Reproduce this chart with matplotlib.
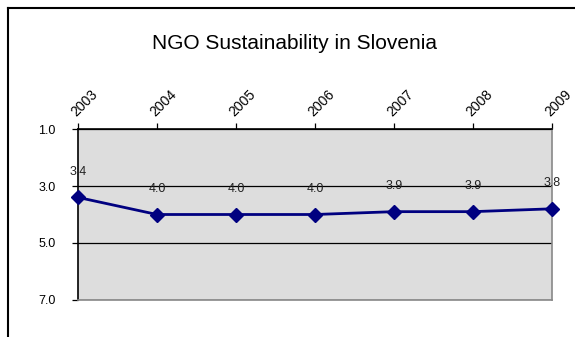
import matplotlib.pyplot as plt
from matplotlib.lines import Line2D

plt.rcParams['font.family'] = ['Liberation Sans', 'DejaVu Sans']

# Data
years = ['2003', '2004', '2005', '2006', '2007', '2008', '2009']
scores = [3.4, 4.0, 4.0, 4.0, 3.9, 3.9, 3.8]
labels = ['3.4', '4.0', '4.0', '4.0', '3.9', '3.9', '3.8']

fig = plt.figure(figsize=(5.75, 3.37), dpi=100)
ax = fig.add_axes([0.1357, 0.1098, 0.8243, 0.5074])

x = list(range(len(years)))
ax.set_facecolor('#dddddd')
ax.plot(x, scores, color='#000080', linewidth=2, marker='D', markersize=7,
        clip_on=False, zorder=3)

for xi, yi, lab in zip(x, scores, labels):
    ax.annotate(lab, (xi, yi), xytext=(0, 14), textcoords='offset points',
                ha='center', va='bottom', fontsize=9, color='#222222')

ax.set_xlim(0, len(years) - 1)
ax.set_ylim(7, 1)
ax.set_yticks([1, 3, 5, 7])
ax.set_yticklabels(['1.0', '3.0', '5.0', '7.0'], fontsize=9)
ax.yaxis.grid(True, color='black', linewidth=0.9)
ax.set_axisbelow(True)

ax.xaxis.tick_top()
ax.set_xticks(x)
ax.set_xticklabels(years, fontsize=10, rotation=45, ha='left',
                   rotation_mode='anchor')
ax.tick_params(axis='x', length=4, width=0.9, pad=3)
ax.tick_params(axis='y', length=4, width=0.9, pad=12)

ax.spines['top'].set_color('black')
ax.spines['left'].set_color('black')
ax.spines['right'].set_color('#888888')
ax.spines['bottom'].set_color('#888888')
for s in ax.spines.values():
    s.set_linewidth(1.2)

fig.text(0.513, 0.872, 'NGO Sustainability in Slovenia', ha='center',
         va='center', fontsize=15)

# outer chart border (top and left only visible)
fig.add_artist(Line2D([8 / 575, 8 / 575], [0, 1 - 8 / 337], color='black',
                      linewidth=1.5, transform=fig.transFigure))
fig.add_artist(Line2D([8 / 575, 1], [1 - 8 / 337, 1 - 8 / 337], color='black',
                      linewidth=1.5, transform=fig.transFigure))

plt.savefig('out.png', dpi=100)
